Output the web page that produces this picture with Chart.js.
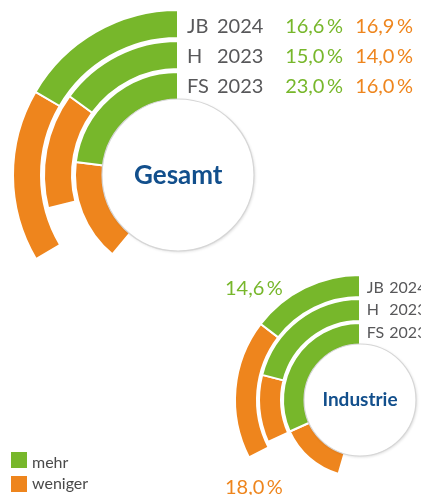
<!DOCTYPE html>
<html><head><meta charset="utf-8">
<script src="https://cdn.jsdelivr.net/npm/chart.js@4/dist/chart.umd.min.js"></script>
<style>
html,body{margin:0;padding:0;background:#fff;}
body{width:421px;height:495px;overflow:hidden;position:relative;font-family:Lato,"Open Sans",sans-serif;}
canvas{position:absolute;}
.t{position:absolute;white-space:nowrap;line-height:1;}
.box{position:absolute;width:16px;height:16px;}
</style></head><body>
<canvas id="gesamt"></canvas>
<canvas id="industrie"></canvas>
<script>
// ---- data ----
const seriesCodes = ['JB', 'H', 'FS'];
const seriesYears = ['2024', '2023', '2023'];
const gesamtMehr = [16.6, 15.0, 23.0];
const gesamtWeniger = [16.9, 14.0, 16.0];
const industrieMehr = [14.6, 21.0, 31.7];
const industrieWeniger = [18.0, 10.8, 13.8];
const centerLabels = ['Gesamt', 'Industrie'];
const legendLabels = ['mehr', 'weniger'];

// ---- style ----
const GREEN = '#77b72b';
const ORANGE = '#ee851d';
const GRAY = '#58585a';
const BLUE = '#124f8c';
const W = 421;

const fmt = v => v.toFixed(1).replace('.', ',') + '\u2009%';

function addText(txt, x, baseline, size, color, weight, align) {
  const d = document.createElement('div');
  d.className = 't';
  d.textContent = txt;
  d.style.fontSize = size + 'px';
  d.style.color = color;
  d.style.fontWeight = weight || 400;
  d.style.top = (baseline - 0.887 * size) + 'px';
  if (align === 'right') { d.style.right = (W - x) + 'px'; }
  else if (align === 'center') { d.style.left = (x - 150) + 'px'; d.style.width = '300px'; d.style.textAlign = 'center'; }
  else { d.style.left = x + 'px'; }
  document.body.appendChild(d);
  return d;
}

const discPlugin = {
  id: 'centerDisc',
  afterDatasetsDraw(chart) {
    const meta = chart.getDatasetMeta(chart.data.datasets.length - 1);
    const arc = meta.data[0];
    const ctx = chart.ctx;
    const r = arc.innerRadius + 1;
    ctx.save();
    ctx.beginPath();
    ctx.arc(arc.x, arc.y, r, 0, Math.PI * 2);
    ctx.fillStyle = '#fff';
    ctx.shadowColor = 'rgba(0,0,0,0.16)';
    ctx.shadowBlur = 3;
    ctx.shadowOffsetX = 1;
    ctx.shadowOffsetY = 1;
    ctx.fill();
    ctx.shadowColor = 'rgba(0,0,0,0)';
    ctx.lineWidth = 1.2;
    ctx.strokeStyle = '#d6d6d6';
    ctx.stroke();
    ctx.restore();
  }
};

function makeChart(id, cx, cy, outerR, innerR, ringW, gapW, mehr, weniger) {
  const cv = document.getElementById(id);
  const margin = 6;
  const size = 2 * outerR + 2 * margin;
  cv.width = size; cv.height = size;
  cv.style.width = size + 'px'; cv.style.height = size + 'px';
  cv.style.left = (cx - size / 2) + 'px';
  cv.style.top = (cy - size / 2) + 'px';
  const datasets = [];
  mehr.forEach((m, k) => {
    if (k > 0) datasets.push({ data: [1], backgroundColor: ['rgba(0,0,0,0)'], borderWidth: 0, weight: gapW });
    datasets.push({
      label: seriesCodes[k] + ' ' + seriesYears[k],
      data: [100 - m - weniger[k], weniger[k], m],
      backgroundColor: ['rgba(0,0,0,0)', ORANGE, GREEN],
      borderColor: '#ffffff',
      borderWidth: [0, 2, 2],
      weight: ringW
    });
  });
  return new Chart(cv, {
    type: 'doughnut',
    data: { labels: ['', legendLabels[1], legendLabels[0]], datasets },
    options: {
      responsive: false,
      animation: false,
      radius: outerR,
      cutout: (innerR / outerR * 100) + '%',
      rotation: 0,
      layout: { padding: 0 },
      events: [],
      plugins: { legend: { display: false }, tooltip: { enabled: false } }
    },
    plugins: [discPlugin]
  });
}

// Gesamt: center (178.3,174.5)
makeChart('gesamt', 178.3, 174.5, 165, 75, 28, 3, gesamtMehr, gesamtWeniger);
// Industrie: center (360,400)
makeChart('industrie', 360, 400, 125, 55, 22, 2, industrieMehr, industrieWeniger);

// Gesamt labels
const gBase = [33, 63, 93];
seriesCodes.forEach((c, k) => {
  addText(c, 187, gBase[k], 20, GRAY);
  addText(seriesYears[k], 217, gBase[k], 20, GRAY);
  addText(fmt(gesamtMehr[k]), 343, gBase[k], 20, GREEN, 400, 'right');
  addText(fmt(gesamtWeniger[k]), 413, gBase[k], 20, ORANGE, 400, 'right');
});
addText(centerLabels[0], 178.3, 184.5, 26, BLUE, 700, 'center');

// Industrie labels
const iBase = [293.3, 315, 338.3];
seriesCodes.forEach((c, k) => {
  addText(c, 366.7, iBase[k], 16, GRAY);
  addText(seriesYears[k], 389.3, iBase[k], 16, GRAY);
});
addText(fmt(industrieMehr[0]), 225, 295, 20, GREEN);
addText(fmt(industrieWeniger[0]), 225, 493.3, 20, ORANGE);
addText(centerLabels[1], 360, 406, 19, BLUE, 700, 'center');

// Legend
[GREEN, ORANGE].forEach((col, k) => {
  const b = document.createElement('div');
  b.className = 'box';
  b.style.background = col;
  b.style.left = '11px';
  b.style.top = (452 + k * 23.5) + 'px';
  document.body.appendChild(b);
  addText(legendLabels[k], 32, [468.3, 489.5][k], 16, '#4a4a4a');
});
</script>
</body></html>
